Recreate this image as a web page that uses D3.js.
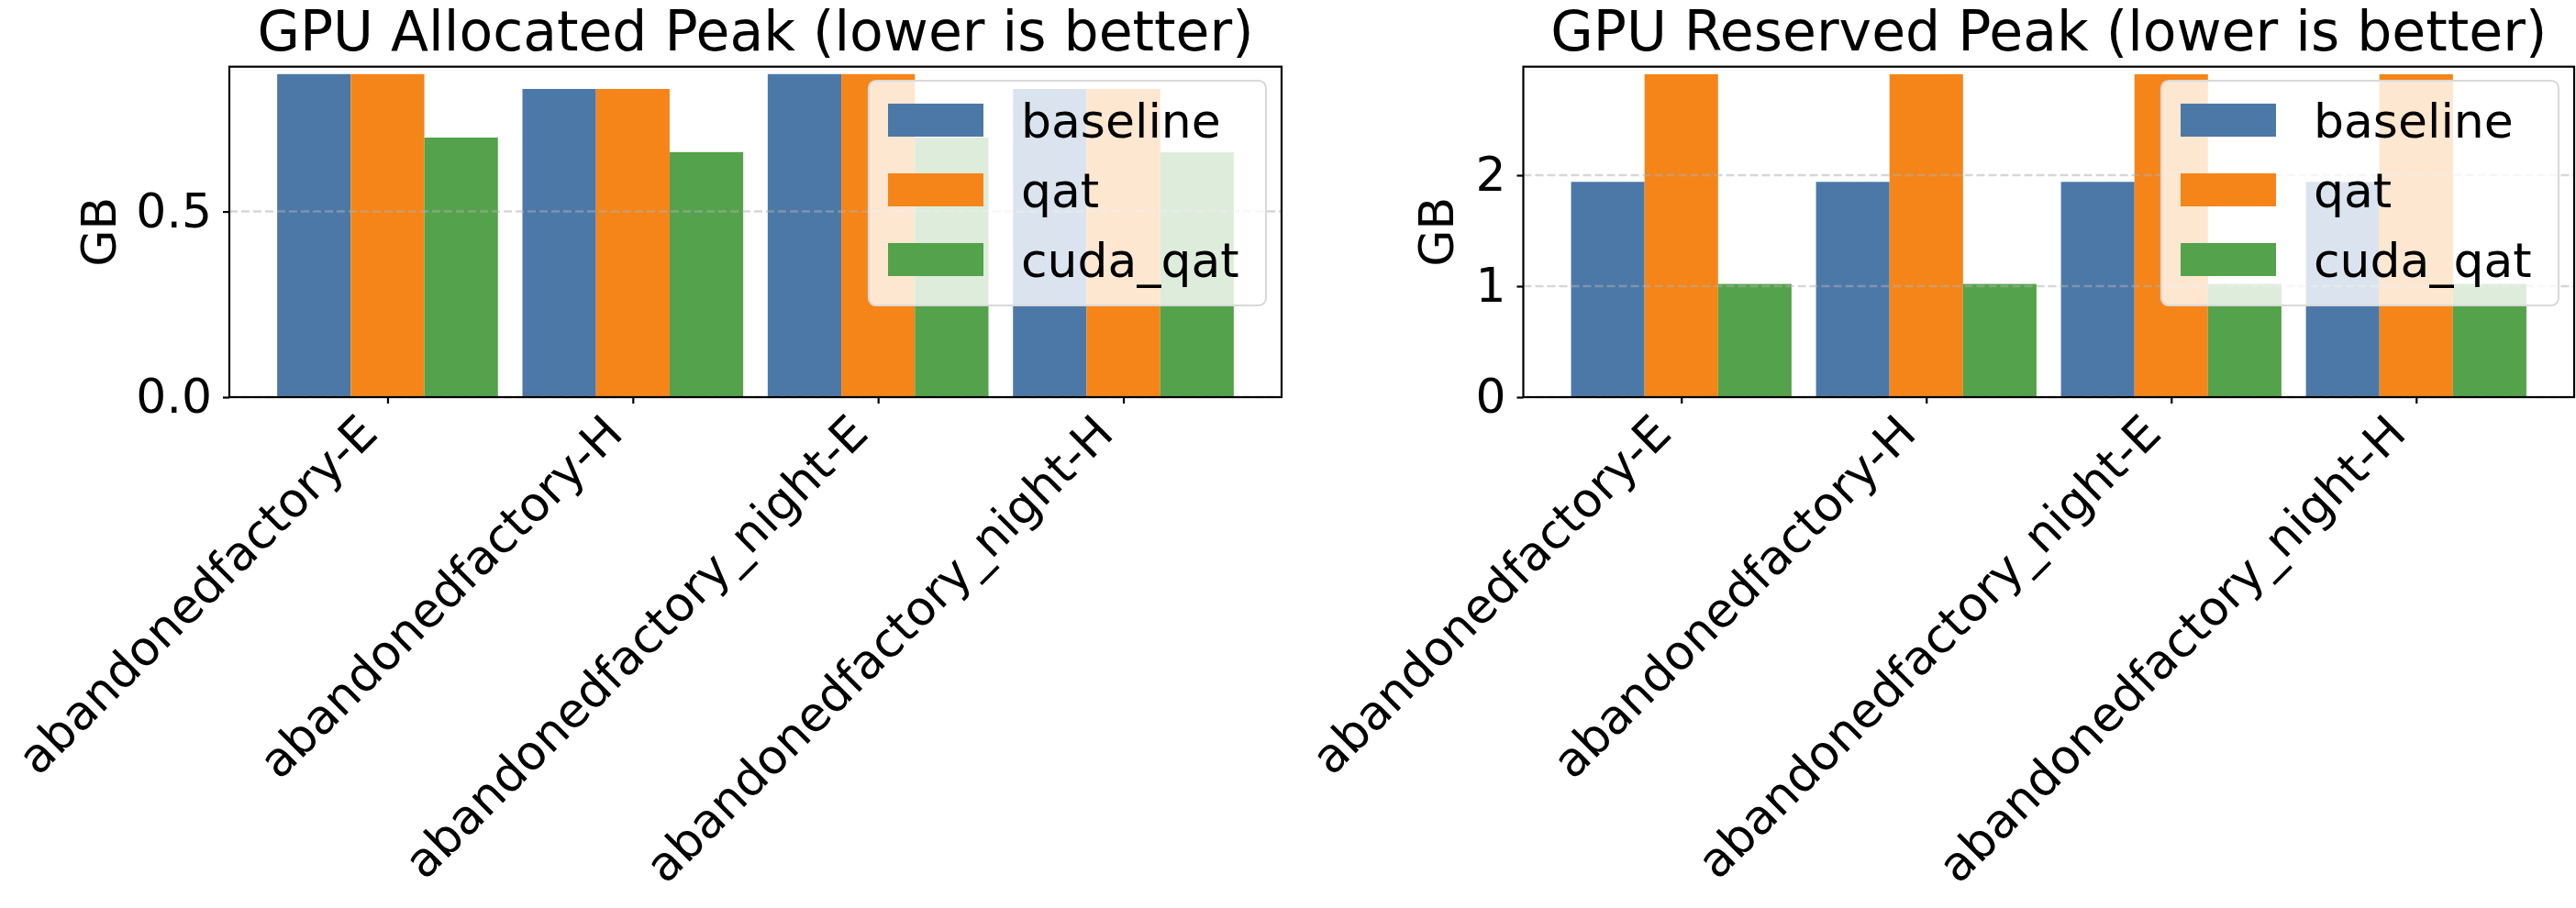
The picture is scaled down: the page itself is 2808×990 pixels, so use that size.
<!DOCTYPE html>
<html>
<head>
<meta charset="utf-8">
<script src="https://cdn.jsdelivr.net/npm/d3@7"></script>
<style>
  body { margin: 0; background: #fff; }
  text { font-family: "DejaVu Sans", sans-serif; fill: #000; }
</style>
</head>
<body>
<script>
// chart data
var scenes = ["abandonedfactory-E", "abandonedfactory-H", "abandonedfactory_night-E", "abandonedfactory_night-H"];
var seriesNames = ["baseline", "qat", "cuda_qat"];
var seriesColors = ["#4c78a8", "#f58518", "#54a24b"];

var allocBaseline = [0.870, 0.830, 0.870, 0.830];
var allocQat = [0.870, 0.830, 0.870, 0.830];
var allocCuda = [0.699, 0.660, 0.699, 0.660];

var reservedBaseline = [1.94, 1.94, 1.94, 1.94];
var reservedQat = [2.91, 2.91, 2.91, 2.91];
var reservedCuda = [1.02, 1.02, 1.02, 1.02];

var allocTicks = [0, 0.5];
var reservedTicks = [0, 1, 2];

window.onload = function() {
    drawChart();
};

function drawChart() {
    var width = 2808,
        height = 990,
        fontSize = 52,
        titleSize = 60;

    var svg = d3.select("body")
        .append("svg")
        .attr("width", width)
        .attr("height", height);

    //two panels side by side
    var panels = [
        {
            title: "GPU Allocated Peak (lower is better)",
            series: [allocBaseline, allocQat, allocCuda],
            yMax: 0.89,
            ticks: allocTicks,
            fmt: d3.format(".1f"),
            left: 250, right: 1397, labelX: 126
        },
        {
            title: "GPU Reserved Peak (lower is better)",
            series: [reservedBaseline, reservedQat, reservedCuda],
            yMax: 2.978,
            ticks: reservedTicks,
            fmt: d3.format("d"),
            left: 1660.5, right: 2806, labelX: 1584
        }
    ];

    var top = 72.7,
        bottom = 433;

    panels.forEach(function(p) {
        var g = svg.append("g");

        //bar groups are centred on integer positions, 0.3 wide each
        var x = d3.scaleLinear()
            .domain([-0.645, scenes.length - 1 + 0.645])
            .range([p.left, p.right]);

        var sub = d3.scaleBand()
            .domain(seriesNames)
            .range([-0.45, 0.45]);

        var y = d3.scaleLinear()
            .domain([0, p.yMax])
            .range([bottom, top]);

        //bars
        seriesNames.forEach(function(name, si) {
            g.selectAll(".bar-" + si)
                .data(p.series[si])
                .enter()
                .append("rect")
                .attr("x", function(d, i) { return x(i + sub(name)); })
                .attr("width", function(d, i) { return x(i + sub(name) + sub.bandwidth()) - x(i + sub(name)); })
                .attr("y", function(d) { return y(d); })
                .attr("height", function(d) { return bottom - y(d); })
                .attr("fill", seriesColors[si]);
        });

        //dashed grid lines (drawn over the bars)
        g.selectAll(".grid")
            .data(p.ticks)
            .enter()
            .append("line")
            .attr("x1", p.left)
            .attr("x2", p.right)
            .attr("y1", function(d) { return y(d); })
            .attr("y2", function(d) { return y(d); })
            .attr("stroke", "#b0b0b0")
            .attr("stroke-opacity", 0.5)
            .attr("stroke-width", 2.5)
            .attr("stroke-dasharray", "9,4");

        //y axis
        var yAxis = d3.axisLeft(y)
            .tickValues(p.ticks)
            .tickFormat(p.fmt)
            .tickSize(7)
            .tickPadding(12);

        var ya = g.append("g")
            .attr("transform", "translate(" + p.left + ",0)")
            .call(yAxis);
        ya.select(".domain").remove();
        ya.selectAll("line").attr("stroke-width", 2.2);
        ya.selectAll("text")
            .style("font-size", fontSize + "px")
            .attr("font-family", "DejaVu Sans");

        //x axis, labels rotated 45 and right aligned to the tick
        var xAxis = d3.axisBottom(x)
            .tickValues(d3.range(scenes.length))
            .tickFormat(function(i) { return scenes[i]; })
            .tickSize(7);

        var xa = g.append("g")
            .attr("transform", "translate(0," + bottom + ")")
            .call(xAxis);
        xa.select(".domain").remove();
        xa.selectAll("line").attr("stroke-width", 2.2);
        xa.selectAll("text")
            .style("font-size", fontSize + "px")
            .attr("font-family", "DejaVu Sans")
            .attr("text-anchor", "end")
            .attr("y", 0)
            .attr("dy", 0)
            .attr("transform", "translate(-9,42) rotate(-45)");

        //frame
        g.append("rect")
            .attr("x", p.left)
            .attr("y", top)
            .attr("width", p.right - p.left)
            .attr("height", bottom - top)
            .attr("fill", "none")
            .attr("stroke", "#000")
            .attr("stroke-width", 2.2);

        //title and y label
        g.append("text")
            .attr("x", (p.left + p.right) / 2)
            .attr("y", 55)
            .attr("text-anchor", "middle")
            .style("font-size", titleSize + "px")
            .text(p.title);

        g.append("text")
            .attr("transform", "translate(" + p.labelX + "," + ((top + bottom) / 2) + ") rotate(-90)")
            .attr("text-anchor", "middle")
            .style("font-size", fontSize + "px")
            .text("GB");

        //legend, upper right
        var lx = p.right - 450,
            ly = 88;
        var legend = g.append("g");
        legend.append("rect")
            .attr("x", lx)
            .attr("y", ly)
            .attr("width", 433)
            .attr("height", 245)
            .attr("rx", 8)
            .attr("fill", "#fff")
            .attr("fill-opacity", 0.8)
            .attr("stroke", "#d9d9d9")
            .attr("stroke-width", 2.2);

        var rows = legend.selectAll(".row")
            .data(seriesNames)
            .enter()
            .append("g")
            .attr("transform", function(d, i) { return "translate(" + lx + "," + (ly + 43 + i * 76) + ")"; });

        rows.append("rect")
            .attr("x", 21)
            .attr("y", -18)
            .attr("width", 104)
            .attr("height", 36)
            .attr("fill", function(d, i) { return seriesColors[i]; });

        rows.append("text")
            .attr("x", 166)
            .attr("y", 0)
            .attr("dy", "0.36em")
            .style("font-size", fontSize + "px")
            .text(function(d) { return d; });
    });
}
</script>
</body>
</html>
